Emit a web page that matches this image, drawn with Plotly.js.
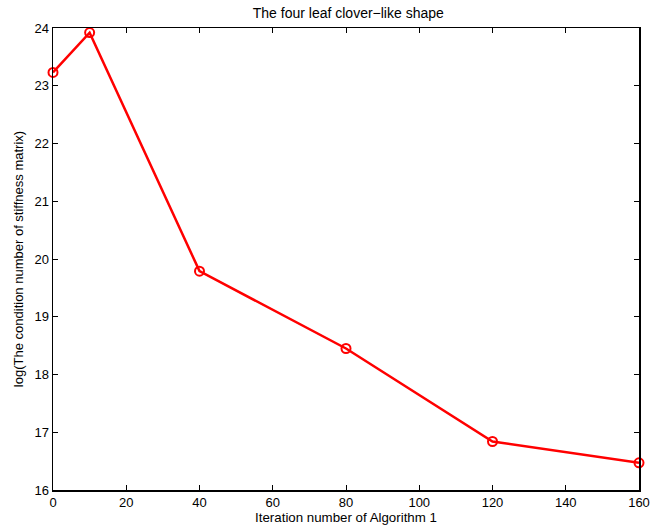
<!DOCTYPE html>
<html>
<head>
<meta charset="utf-8">
<script src="https://cdn.plot.ly/plotly-3.0.1.min.js"></script>
<style>html,body{margin:0;padding:0;background:#fff;}#chart{width:651px;height:531px;}</style>
</head>
<body>
<div id="chart"></div>
<script>
const iterations = [0, 10, 40, 80, 120, 160];
const logCond = [23.23, 23.92, 19.79, 18.45, 16.84, 16.47];
const xTicks = [0, 20, 40, 60, 80, 100, 120, 140, 160];
const yTicks = [16, 17, 18, 19, 20, 21, 22, 23, 24];

const font = 'Liberation Sans, Arial, Helvetica, sans-serif';
const trace = {
  x: iterations, y: logCond, type: 'scatter', mode: 'lines+markers',
  line: {color: '#ff0000', width: 2.5},
  marker: {symbol: 'circle-open', size: 9, color: '#ff0000', line: {width: 2, color: '#ff0000'}},
  cliponaxis: false
};
const axisCommon = {
  showgrid: false, zeroline: false, showline: true, mirror: 'ticks',
  linecolor: '#000', linewidth: 1.5, ticks: 'inside', ticklen: 5, tickcolor: '#000', tickwidth: 1,
  tickfont: {family: font, size: 13, color: '#000'}
};
const layout = {
  width: 651, height: 531,
  margin: {l: 53, r: 12, t: 28, b: 41},
  paper_bgcolor: '#fff', plot_bgcolor: '#fff',
  showlegend: false,
  title: {text: 'The four leaf clover\u2212like shape', font: {family: font, size: 14, color: '#000'}, x: 0.535, xanchor: 'center', y: 0.976, yanchor: 'middle'},
  xaxis: Object.assign({}, axisCommon, {range: [0, 160], tickvals: xTicks, ticktext: xTicks.map(String),
    title: {text: 'Iteration number of Algorithm 1', font: {family: font, size: 13.3, color: '#000'}, standoff: 0}}),
  yaxis: Object.assign({}, axisCommon, {range: [16, 24], tickvals: yTicks, ticktext: yTicks.map(String),
    title: {text: 'log(The condition number of stiffness matrix)', font: {family: font, size: 13, color: '#000'}, standoff: 8}})
};
Plotly.newPlot('chart', [trace], layout, {displayModeBar: false, staticPlot: true});
</script>
</body>
</html>
